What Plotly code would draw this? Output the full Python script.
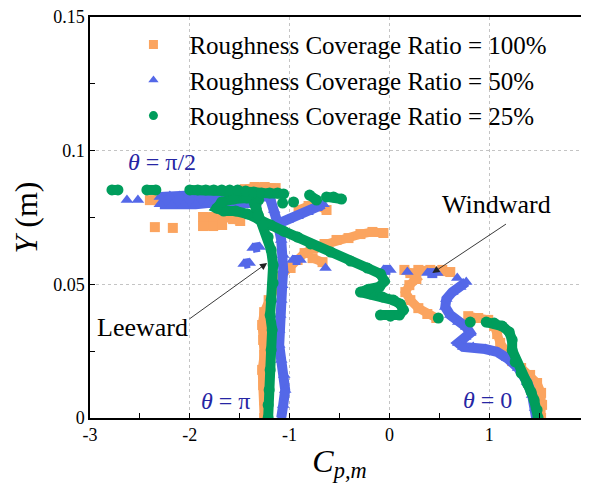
import plotly.graph_objects as go

# Cp,m along the cylinder height for each coverage ratio (None breaks the marker band)
cp_100 = [1.52, 1.53, 1.52, 1.48, 1.41, 1.32, 1.23, 1.16, 1.11, 1.08, 1.05, 0.99, 0.89, 0.79, None,
          0.47, 0.38, 0.29, 0.21, 0.16, 0.20, 0.27, 0.21, 0.15, None,
          0.29, 0.41, 0.53, 0.61, None,
          -0.06, -0.17, -0.29, -0.41, -0.53, -0.65, -0.76, -0.85, -0.92, -0.99, -1.09, -1.15, -1.21,
          -1.255, -1.275, -1.265, -1.255, -1.275, -1.265, -1.255, -1.255, None,
          -0.77, -0.67, None,
          -1.495, -1.566, -1.666, -1.766, -1.867, -1.867, -1.766, -1.676, None,
          -2.40, -2.32, None,
          -1.95, -1.85, -1.75, -1.65, -1.55, -1.45, -1.35, -1.25, -1.14, None,
          -0.91, -0.81, -0.71, -0.63, None,
          -2.35, None,
          -2.17]
y_100 = [0.0, 0.0049, 0.0094, 0.0131, 0.0161, 0.0187, 0.0213, 0.0247, 0.0281, 0.0314, 0.0344, 0.0367, 0.0374, 0.0381, None,
         0.0374, 0.0389, 0.0411, 0.0441, 0.0471, 0.0497, 0.0520, 0.0542, 0.0554, None,
         0.0554, 0.0554, 0.0554, 0.0546, None,
         0.0692, 0.0696, 0.0688, 0.0673, 0.0666, 0.0651, 0.0636, 0.0617, 0.0591, 0.0561, 0.0531, 0.0486, 0.0441,
         0.0396, 0.0348, 0.0292, 0.0236, 0.0180, 0.0123, 0.0067, 0.0, None,
         0.0598, 0.0583, None,
         0.0737, 0.0744, 0.0752, 0.0752, 0.0752, 0.0718, 0.0718, 0.0722, None,
         0.0815, 0.0815, None,
         0.0830, 0.0830, 0.0834, 0.0838, 0.0845, 0.0856, 0.0864, 0.0864, 0.0860, None,
         0.0778, 0.0793, 0.0793, 0.0778, None,
         0.0714, None,
         0.0711]

cp_50 = [1.47, 1.46, 1.43, 1.38, 1.29, 1.18, 1.08, 0.96, 0.84, 0.74, 0.69, 0.76, 0.81, 0.77, 0.69, 0.61,
         0.56, 0.57, 0.63, 0.71, 0.77, None,
         0.68, None,
         0.48, 0.38, None,
         0.18, None,
         0.01, -0.06, None,
         -0.64, None,
         -0.97, -0.89, None,
         -1.37, -1.30, None,
         -1.46, -1.40, None,
         -1.12, -1.02, -0.92, -0.82, -0.73, -0.66, None,
         -2.30, -2.20, -2.10, -2.00, -1.90, -1.80, -1.70, -1.60, -1.50, -1.40, -1.30, -1.20,
         -1.155, -1.114, -1.084, -1.064, -1.064, -1.074, -1.084, -1.094, -1.104, -1.104, -1.084,
         -1.054, -1.044, -1.064, -1.084, None,
         -2.30, -2.18, -2.06, -1.94, -1.82, -1.70, -1.58, -1.46, -1.34, None,
         -2.63, None,
         -2.52]
y_50 = [0.0, 0.0037, 0.0086, 0.0135, 0.0187, 0.0224, 0.0247, 0.0258, 0.0266, 0.0266, 0.0281, 0.0303, 0.0318, 0.0340, 0.0359, 0.0385,
        0.0415, 0.0445, 0.0471, 0.0490, 0.0509, None,
        0.0524, None,
        0.0542, 0.0542, None,
        0.0546, None,
        0.0554, 0.0554, None,
        0.0561, None,
        0.0591, 0.0591, None,
        0.0636, 0.0640, None,
        0.0576, 0.0580, None,
        0.0726, 0.0741, 0.0755, 0.0770, 0.0785, 0.0800, None,
        0.0827, 0.0830, 0.0830, 0.0834, 0.0834, 0.0838, 0.0838, 0.0838, 0.0838, 0.0834, 0.0830, 0.0827,
        0.0778, 0.0722, 0.0666, 0.0610, 0.0554, 0.0497, 0.0441, 0.0385, 0.0329, 0.0273, 0.0217,
        0.0161, 0.0105, 0.0049, 0.0, None,
        0.0800, 0.0797, 0.0797, 0.0800, 0.0804, 0.0804, 0.0804, 0.0804, 0.0804, None,
        0.0815, None,
        0.0815]

cp_25 = [1.49, 1.48, 1.45, 1.42, 1.38, 1.32, 1.26, 1.23, 1.23, 1.20, 1.13, 1.05, 0.97, None,
         0.81, None,
         0.49, None,
         -0.09, 0.01, 0.10, 0.14, 0.11, 0.04, -0.07, -0.19, -0.29, -0.21, -0.10, -0.05, -0.09, -0.22,
         -0.39, -0.59, -0.79, -0.92, -1.06, -1.19, -1.31, -1.42, -1.54, -1.66, -1.73, -1.68, -1.56,
         -1.43, -1.31, None,
         -2.00, -1.92, -1.84, -1.76, -1.68, -1.60, -1.52, -1.44, -1.36, -1.28, -1.20, -1.12, -1.06, None,
         -1.35, -1.335, -1.315, -1.265, -1.215, -1.185, -1.165, -1.165, -1.185, -1.195, -1.175, -1.185,
         -1.195, -1.205, -1.215, -1.215, None,
         -2.78, -2.72, None,
         -2.43, -2.34, None,
         -1.07, None,
         -0.96, None,
         -0.80, -0.73, None,
         -0.63, -0.56, -0.48]
y_25 = [0.0, 0.003, 0.0067, 0.0097, 0.013, 0.0168, 0.021, 0.0254, 0.0292, 0.0322, 0.0344, 0.0355, 0.0359, None,
        0.0359, None,
        0.0374, None,
        0.0385, 0.0381, 0.0385, 0.0404, 0.0426, 0.0441, 0.0453, 0.0464, 0.0471, 0.0482, 0.0490, 0.0512, 0.0539, 0.0561,
        0.0587, 0.0621, 0.0651, 0.0677, 0.0699, 0.0722, 0.0744, 0.0763, 0.0774, 0.0774, 0.0785, 0.0808, 0.0819,
        0.0823, 0.0815, None,
        0.0853, 0.0853, 0.0853, 0.0853, 0.0853, 0.0853, 0.0853, 0.0849, 0.0845, 0.0842, 0.0842, 0.0842, 0.0838, None,
        0.0800, 0.0785, 0.0759, 0.0722, 0.0677, 0.0628, 0.0572, 0.0505, 0.0441, 0.0385, 0.0329, 0.0254,
        0.0180, 0.0105, 0.0049, 0.0, None,
        0.0853, 0.0853, None,
        0.0853, 0.0853, None,
        0.0804, None,
        0.0808, None,
        0.0834, 0.0815, None,
        0.0827, 0.0827, 0.0819]

series_names = ['Roughness Coverage Ratio = 100%',
                'Roughness Coverage Ratio = 50%',
                'Roughness Coverage Ratio = 25%']

x_tick_vals = [-3, -2, -1, 0, 1, 2]
x_tick_text = ['-3', '-2', '-1', '0', '1', '2']
x_minor_vals = [-2.5, -1.5, -0.5, 0.5, 1.5]
y_tick_vals = [0, 0.05, 0.1, 0.15]
y_tick_text = ['0', '0.05', '0.1', '0.15']
y_minor_vals = [0.025, 0.075, 0.125]

SERIF = 'Times New Roman, Liberation Serif, serif'

fig = go.Figure()

styles = [
    (cp_100, y_100, '#FBA45F', 'square', 10),
    (cp_50, y_50, '#5468E8', 'triangle-up', 11),
    (cp_25, y_25, '#009D5C', 'circle', 11),
]

# dense measurement points drawn as a thick band of markers
for (xs, ys, color, symbol, size), name in zip(styles, series_names):
    fig.add_trace(go.Scatter(x=xs, y=ys, mode='lines+markers',
                             line=dict(color=color, width=size - 1),
                             marker=dict(color=color, symbol=symbol, size=size),
                             connectgaps=False, showlegend=False))
    # legend entry with marker only
    fig.add_trace(go.Scatter(x=[None], y=[None], mode='markers', name=name,
                             marker=dict(color=color, symbol=symbol, size=9)))

theta_color = '#2626A4'
text_font = dict(family=SERIF, size=26, color='black')
theta_font = dict(family=SERIF, size=24, color=theta_color)

annotations = [
    dict(x=-2.278, y=0.0957, text='<i>θ</i> = π/2', font=theta_font),
    dict(x=-1.646, y=0.0064, text='<i>θ</i> = π', font=theta_font),
    dict(x=0.982, y=0.0067, text='<i>θ</i> = 0', font=theta_font),
    dict(x=1.072, y=0.080, text='Windward', font=text_font),
    dict(x=-2.478, y=0.0337, text='Leeward', font=text_font),
    dict(x=0.43, y=0.0542, ax=1.183, ay=0.0729, axref='x', ayref='y', text='',
         showarrow=True, arrowhead=2, arrowsize=1.6, arrowwidth=0.9, arrowcolor='#222222'),
    dict(x=-1.225, y=0.058, ax=-2.017, ay=0.0367, axref='x', ayref='y', text='',
         showarrow=True, arrowhead=2, arrowsize=1.6, arrowwidth=0.9, arrowcolor='#222222'),
]
for a in annotations:
    a.setdefault('showarrow', False)
    a['xref'] = 'x'
    a['yref'] = 'y'

# the page body adds an 8px offset, so the figure is sized to fit the window
fig.update_layout(
    width=581, height=486,
    margin=dict(l=82, r=0, t=9, b=76),
    paper_bgcolor='white', plot_bgcolor='white',
    font=dict(family=SERIF, size=18, color='black'),
    showlegend=True,
    legend=dict(x=0.055, y=0.988, xanchor='left', yanchor='top',
                bgcolor='rgba(0,0,0,0)', font=dict(family=SERIF, size=25), itemwidth=62,
                tracegroupgap=0),
    annotations=annotations,
    xaxis=dict(range=[-3, 2], tickmode='array', tickvals=x_tick_vals, ticktext=x_tick_text,
               ticks='inside', ticklen=5, tickwidth=1.2, tickcolor='black', automargin=False,
               ticklabeloverflow='allow',
               showline=True, linecolor='black', linewidth=1.5, mirror=True,
               showgrid=True, gridcolor='#C4C4C4', griddash='dot', gridwidth=1, zeroline=False,
               minor=dict(tickmode='array', tickvals=x_minor_vals, ticks='inside', ticklen=5,
                          tickcolor='black', showgrid=False),
               title=dict(text='<i>C</i><sub><i>p,m</i></sub>', font=dict(family=SERIF, size=32), standoff=5)),
    yaxis=dict(range=[0, 0.15], tickmode='array', tickvals=y_tick_vals, ticktext=y_tick_text,
               ticks='inside', ticklen=5, tickwidth=1.2, tickcolor='black', automargin=False,
               ticklabeloverflow='allow',
               showline=True, linecolor='black', linewidth=1.5, mirror=False,
               showgrid=True, gridcolor='#C4C4C4', griddash='dot', gridwidth=1, zeroline=False,
               minor=dict(tickmode='array', tickvals=y_minor_vals, ticks='inside', ticklen=5,
                          tickcolor='black', showgrid=False),
               title=dict(text='<i>Y</i> (m)', font=dict(family=SERIF, size=32), standoff=10)),
)

fig.write_html("out.html")
